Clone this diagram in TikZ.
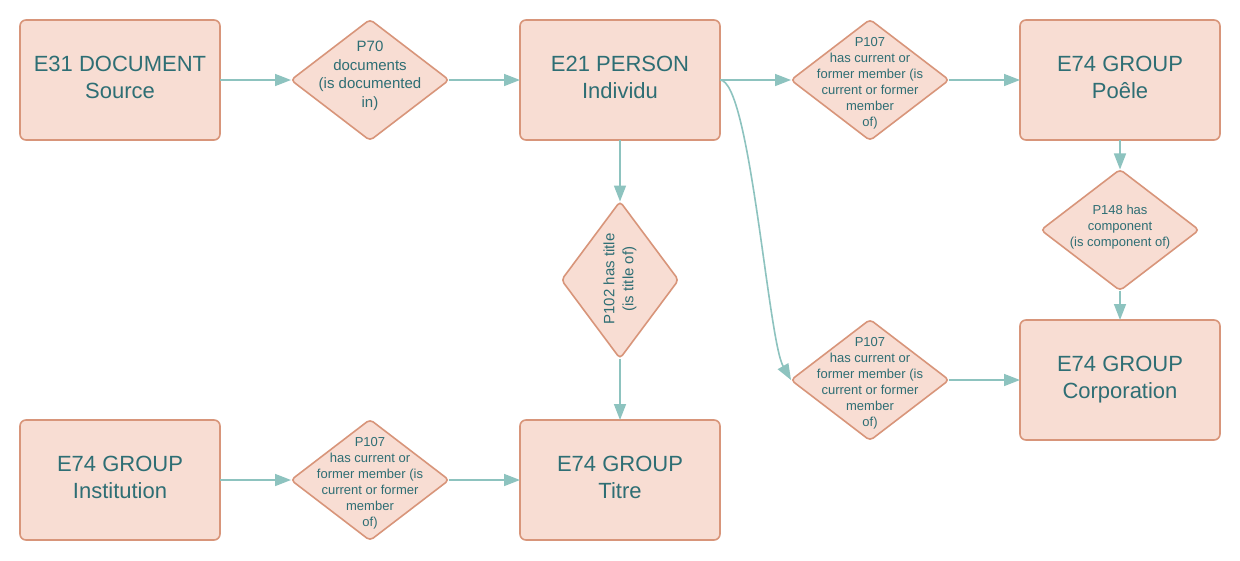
\documentclass[tikz,border=0pt]{standalone}
\usepackage{fontspec}
\setmainfont{Liberation Sans}
\usetikzlibrary{shapes.geometric,arrows.meta}

\definecolor{boxfill}{HTML}{F8DDD3}
\definecolor{boxline}{HTML}{D8957A}
\definecolor{boxtext}{HTML}{2E6E74}
\definecolor{linkcol}{HTML}{8DC3BF}

\begin{document}
\begin{tikzpicture}[x=1pt, y=-1pt,
    entity/.style={draw=boxline, fill=boxfill, line width=1.6pt, rounded corners=6pt,
        minimum width=200pt, minimum height=120pt, inner sep=0pt, outer sep=0pt, text=boxtext,
        align=center, text depth=6pt, font=\fontsize{22}{27}\selectfont},
    prop/.style={diamond, draw=boxline, fill=boxfill, line width=1.6pt, rounded corners=4pt,
        minimum width=158pt, minimum height=121pt, inner sep=0pt, outer sep=0pt},
    proptxt/.style={text=boxtext, align=center, inner sep=0pt, font=\fontsize{13}{16}\selectfont},
    bigtxt/.style={text=boxtext, align=center, inner sep=0pt, font=\fontsize{15}{18.7}\selectfont},
    link/.style={draw=linkcol, line width=1.6pt, -{Triangle[length=16pt,width=12pt]}}]

    % Canvas
    \useasboundingbox[fill=white] (0,0) rectangle (1240,560);

    % Classes
    \node[entity] (source) at (120,80) {E31 DOCUMENT\\Source};
    \node[entity] (person) at (620,80) {E21 PERSON\\Individu};
    \node[entity] (poele) at (1120,80) {E74 GROUP\\Poêle};
    \node[entity] (corpo) at (1120,380) {E74 GROUP\\Corporation};
    \node[entity] (instit) at (120,480) {E74 GROUP\\Institution};
    \node[entity] (titre) at (620,480) {E74 GROUP\\Titre};

    % Properties
    \node[prop, label={[bigtxt, font=\fontsize{15}{18.5}\selectfont, yshift=4pt]center:P70\\documents\\(is documented\\in)}] (p70) at (370,80) {};
    \node[prop, label={[proptxt, yshift=-3pt]center:P107\\has current or\\former member (is\\current or former\\member\\of)}] (p107a) at (870,80) {};
    \node[prop, label={[proptxt, yshift=3pt]center:P148 has\\component\\(is component of)}] (p148) at (1120,230) {};
    \node[prop, minimum width=117pt, minimum height=157pt,
        label={[bigtxt, font=\fontsize{15}{19}\selectfont, rotate=90, xshift=1pt]center:P102 has title\\(is title of)}] (p102) at (620,280) {};
    \node[prop, label={[proptxt, yshift=-3pt]center:P107\\has current or\\former member (is\\current or former\\member\\of)}] (p107b) at (870,380) {};
    \node[prop, label={[proptxt, yshift=-3pt]center:P107\\has current or\\former member (is\\current or former\\member\\of)}] (p107c) at (370,480) {};

    % Links
    \draw[link] (source) -- (p70);
    \draw[link] (p70) -- (person);
    \draw[link] (person) -- (p107a);
    \draw[link] (p107a) -- (poele);
    \draw[link] (poele) -- (p148);
    \draw[link] (p148) -- (corpo);
    \draw[link] (person) -- (p102);
    \draw[link] (p102) -- (titre);
    \draw[link] (instit) -- (p107c);
    \draw[link] (p107c) -- (titre);
    \draw[link] (p107b) -- (corpo);
    \draw[link] (person.east) .. controls (750,80) and (768,340) .. (p107b.west);

\end{tikzpicture}
\end{document}
